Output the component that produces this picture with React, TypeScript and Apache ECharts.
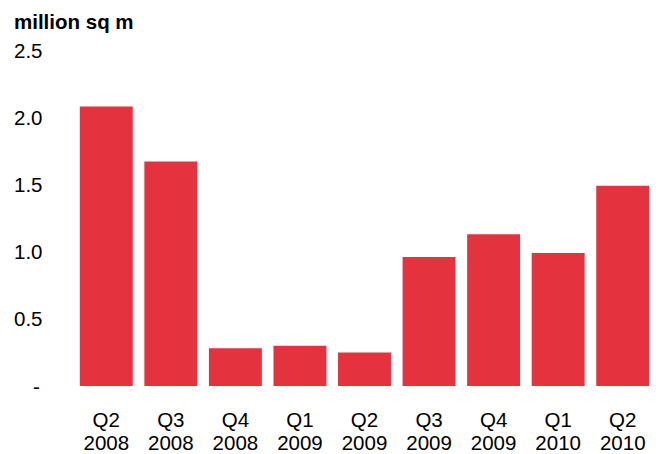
import React, { useEffect, useRef } from "react";
import * as echarts from "echarts";

const categories = ["Q2\n2008", "Q3\n2008", "Q4\n2008", "Q1\n2009", "Q2\n2009", "Q3\n2009", "Q4\n2009", "Q1\n2010", "Q2\n2010"];
const values = [2.08, 1.67, 0.28, 0.30, 0.25, 0.96, 1.13, 0.99, 1.49];
const unitLabel = "million sq m";

export default function App() {
  const ref = useRef<HTMLDivElement>(null);
  useEffect(() => {
    if (!ref.current) return;
    const chart = echarts.init(ref.current, null, { renderer: "svg" });
    const font = "Liberation Sans, Arial, sans-serif";
    chart.setOption({
      animation: false,
      title: {
        text: unitLabel,
        left: 9,
        top: 6,
        textStyle: { fontFamily: font, fontSize: 20.5, fontWeight: "bold", color: "#000" },
      },
      grid: { left: 74, right: 8, top: 50, bottom: 68 },
      xAxis: {
        type: "category",
        data: categories,
        axisLine: { show: false },
        axisTick: { show: false },
        axisLabel: { color: "#000", fontFamily: font, fontSize: 20.5, lineHeight: 23, margin: 22 },
      },
      yAxis: {
        type: "value",
        min: 0,
        max: 2.5,
        interval: 0.5,
        splitLine: { show: false },
        axisLine: { show: false },
        axisTick: { show: false },
        axisLabel: {
          color: "#000",
          fontFamily: font,
          fontSize: 20.5,
          align: "left",
          margin: 60,
          formatter: (v: number) => (v === 0 ? "{d|-}" : v.toFixed(1)),
          rich: { d: { padding: [0, 0, 0, 19], fontSize: 20.5, fontFamily: font, color: "#000" } },
        },
      },
      series: [
        {
          type: "bar",
          data: values,
          barCategoryGap: "18%",
          itemStyle: { color: "#e5323f" },
        },
      ],
    });
    return () => chart.dispose();
  }, []);
  return <div ref={ref} style={{ width: 663, height: 454, position: "absolute", left: 0, top: 0 }} />;
}
